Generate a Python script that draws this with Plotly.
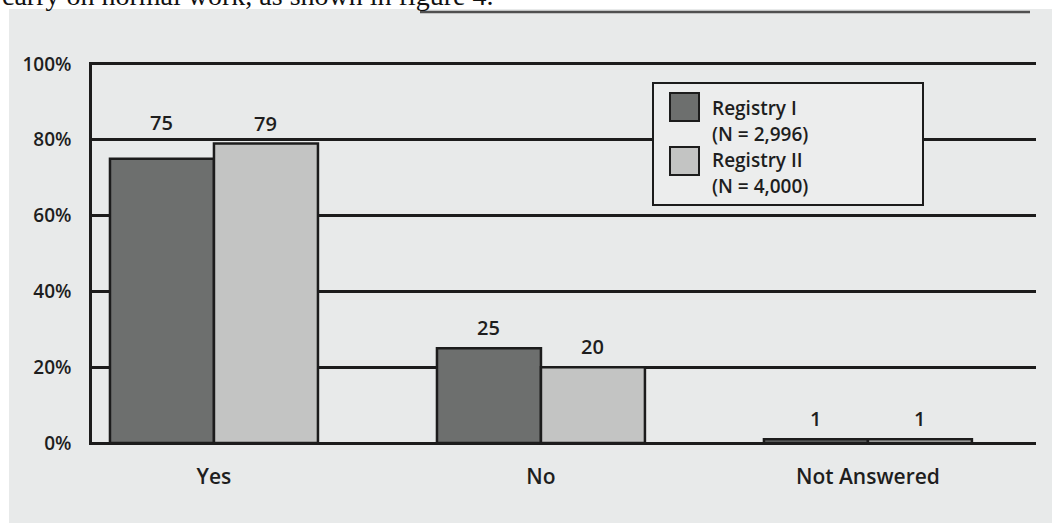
import plotly.graph_objects as go

# ---- data -------------------------------------------------------------
categories = ["Yes", "No", "Not Answered"]
registry_names = ["Registry I", "Registry II"]
registry_n = [2996, 4000]
registry_i = [75, 25, 1]
registry_ii = [79, 20, 1]
y_ticks = [0, 20, 40, 60, 80, 100]

# ---- page geometry (pixels) --------------------------------------------
W, H = 1064, 523
PLOT_L, PLOT_R, PLOT_T, PLOT_B = 92, 1036, 62, 445
Y_RANGE = [-0.5, 100.5]
X_RANGE = [-0.373, 2.514]
BARGAP = 0.364

PAGE = "#e8eaea"
INK = "#1c1c1c"
TEXT = "#1e1e1e"
DARK = "#6d6f6e"
LIGHT = "#c3c4c3"
FONT = "Open Sans"


def px_x(px):
    return (px - PLOT_L) / (PLOT_R - PLOT_L)


def px_y(py):
    return (PLOT_B - py) / (PLOT_B - PLOT_T)


def font(size):
    return dict(family=FONT, size=size, color=TEXT, weight=600)


fig = go.Figure()
series = [registry_i, registry_ii]
fills = [DARK, LIGHT]
for name, vals, fill in zip(registry_names, series, fills):
    fig.add_trace(go.Bar(
        x=categories, y=vals, name=name,
        marker=dict(color=fill, line=dict(color=INK, width=2.5)),
        showlegend=False, hoverinfo="x+y+name",
    ))

# value labels above each bar, lifted clear of a gridline they would cross
px_per_unit = (PLOT_B - PLOT_T) / (Y_RANGE[1] - Y_RANGE[0])
label_h = 28 / px_per_unit
bar_w = (1 - BARGAP) / len(series)
annotations = []
for k, vals in enumerate(series):
    offset = (k - (len(series) - 1) / 2) * bar_w
    for i, v in enumerate(vals):
        base, shift = v, 5
        lo, hi = v + shift / px_per_unit, v + shift / px_per_unit + label_h
        for g in y_ticks:
            if lo < g < hi:
                base, shift = g, 2
        annotations.append(dict(
            x=i + offset, y=base, xref="x", yref="y", text=str(v),
            showarrow=False, yanchor="bottom", yshift=shift,
            font=font(20),
        ))

shapes = [
    # scanned page area
    dict(type="rect", xref="paper", yref="paper", layer="below",
         x0=px_x(9), x1=px_x(1052), y0=px_y(H + 5), y1=px_y(9),
         fillcolor=PAGE, line=dict(width=0)),
    # rule across the top of the page
    dict(type="line", xref="paper", yref="paper",
         x0=px_x(420), x1=px_x(1030), y0=px_y(12), y1=px_y(12),
         line=dict(color="#505050", width=2.5)),
    # legend box
    dict(type="rect", xref="paper", yref="paper",
         x0=px_x(653), x1=px_x(923), y0=px_y(205), y1=px_y(83),
         fillcolor="#eceded", line=dict(color=INK, width=2)),
]
sw_tops = [93, 147]
line_centres = [(108, 134), (160, 186)]
for name, n, fill, top, (c1, c2) in zip(registry_names, registry_n, fills,
                                        sw_tops, line_centres):
    shapes.append(dict(type="rect", xref="paper", yref="paper",
                       x0=px_x(670), x1=px_x(699),
                       y0=px_y(top + 28), y1=px_y(top),
                       fillcolor=fill, line=dict(color=INK, width=2)))
    for text, c in ((name, c1), (f"(N = {n:,})", c2)):
        annotations.append(dict(
            x=px_x(711), y=px_y(c), xref="paper", yref="paper",
            xanchor="left", yanchor="middle", align="left",
            showarrow=False, borderpad=0, text=text, font=font(19),
        ))

# running text of the page just above the figure
annotations.append(dict(
    x=px_x(0), y=px_y(13), xref="paper", yref="paper",
    xanchor="left", yanchor="bottom", showarrow=False,
    text="carry on normal work, as shown in figure 4.",
    font=dict(family="Liberation Serif", size=28, color="#111111"),
))

fig.update_layout(
    width=W, height=H,
    margin=dict(l=PLOT_L, r=W - PLOT_R, t=PLOT_T, b=H - PLOT_B, pad=0),
    paper_bgcolor="white", plot_bgcolor="rgba(0,0,0,0)",
    barmode="group", bargap=BARGAP, bargroupgap=0,
    shapes=shapes, annotations=annotations,
    xaxis=dict(type="category", categoryorder="array",
               categoryarray=categories, range=X_RANGE,
               showgrid=False, zeroline=False, showline=False, ticks="",
               ticklabelstandoff=17, tickfont=font(21)),
    yaxis=dict(range=Y_RANGE, tickvals=y_ticks,
               ticktext=[f"{t}%" for t in y_ticks],
               showgrid=True, gridcolor=INK, gridwidth=2.5,
               zeroline=False, showline=True, linecolor=INK, linewidth=2.5,
               ticks="", ticklabelstandoff=14, tickfont=font(19)),
)

fig.write_html("out.html")
